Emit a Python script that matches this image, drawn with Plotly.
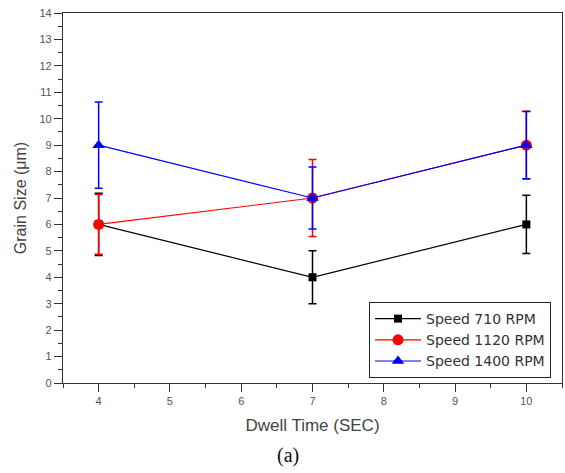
import plotly.graph_objects as go

dwell_time = [4, 7, 10]
names = ["Speed 710 RPM", "Speed 1120 RPM", "Speed 1400 RPM"]
grain_710 = [6, 4, 6]
err_710 = [1.18, 1.0, 1.1]
grain_1120 = [6, 7, 9]
err_1120 = [1.13, 1.46, 1.28]
grain_1400 = [9, 7, 9]
err_1400 = [1.63, 1.17, 1.27]

colors = ["#000000", "#ff0000", "#0000ff"]
symbols = ["square", "circle", "triangle-up"]
sizes = [8, 11, 11]
series = [grain_710, grain_1120, grain_1400]
errors = [err_710, err_1120, err_1400]

fig = go.Figure()
for name, ys, es, c, s, sz in zip(names, series, errors, colors, symbols, sizes):
    fig.add_trace(go.Scatter(
        x=dwell_time, y=ys, name=name, mode="lines+markers",
        line=dict(color=c, width=1.2),
        marker=dict(symbol=s, size=sz, color=c),
        error_y=dict(type="data", array=es, visible=True, color=c,
                     thickness=1.5, width=4),
    ))

font = "Liberation Sans, Arial, sans-serif"
fig.update_layout(
    width=565, height=473, autosize=False,
    margin=dict(l=63, r=2, t=13, b=90),
    paper_bgcolor="white", plot_bgcolor="white",
    showlegend=True,
    legend=dict(x=0.978, y=0.0135, xanchor="right", yanchor="bottom",
                bordercolor="#222", borderwidth=1, bgcolor="white",
                font=dict(family="DejaVu Sans, sans-serif", size=14, color="#333"),
                itemwidth=46, tracegroupgap=0),
    font=dict(family=font, color="#444"),
)
fig.update_xaxes(
    range=[3.5, 10.5], tickmode="array", tickvals=[4, 5, 6, 7, 8, 9, 10],
    ticks="outside", ticklen=8, tickwidth=1, tickcolor="#333",
    minor=dict(ticks="outside", ticklen=4, dtick=0.5, tick0=3.5, tickcolor="#333"),
    showline=True, linecolor="#333", linewidth=1.3, mirror=True,
    showgrid=False, zeroline=False,
    tickfont=dict(family=font, size=11, color="#555"),
    title=dict(text="Dwell Time (SEC)", font=dict(family=font, size=17, color="#444"), standoff=12),
)
fig.update_yaxes(
    range=[0, 14], tickmode="array", tickvals=list(range(0, 15)),
    ticks="outside", ticklen=8, tickwidth=1, tickcolor="#333",
    minor=dict(ticks="outside", ticklen=4, dtick=0.5, tick0=0, tickcolor="#333"),
    showline=True, linecolor="#333", linewidth=1.3, mirror=True,
    showgrid=False, zeroline=False,
    tickfont=dict(family=font, size=11, color="#555"),
    title=dict(text="Grain Size (μm)", font=dict(family=font, size=16, color="#444"), standoff=8),
)
fig.add_annotation(text="(a)", xref="paper", yref="paper", x=0.45, y=-0.195,
                   xanchor="center", yanchor="middle", showarrow=False,
                   font=dict(family="Liberation Serif, Times New Roman, serif", size=20, color="#111"))
post = ("document.body.style.margin='0';document.body.style.overflow='hidden';"
        "var gd=document.getElementById('{plot_id}');"
        "Plotly.relayout(gd,{width:565,height:473});")
fig.write_html("out.html", post_script=post, default_width="565px", default_height="473px",
               config={"displayModeBar": False})
